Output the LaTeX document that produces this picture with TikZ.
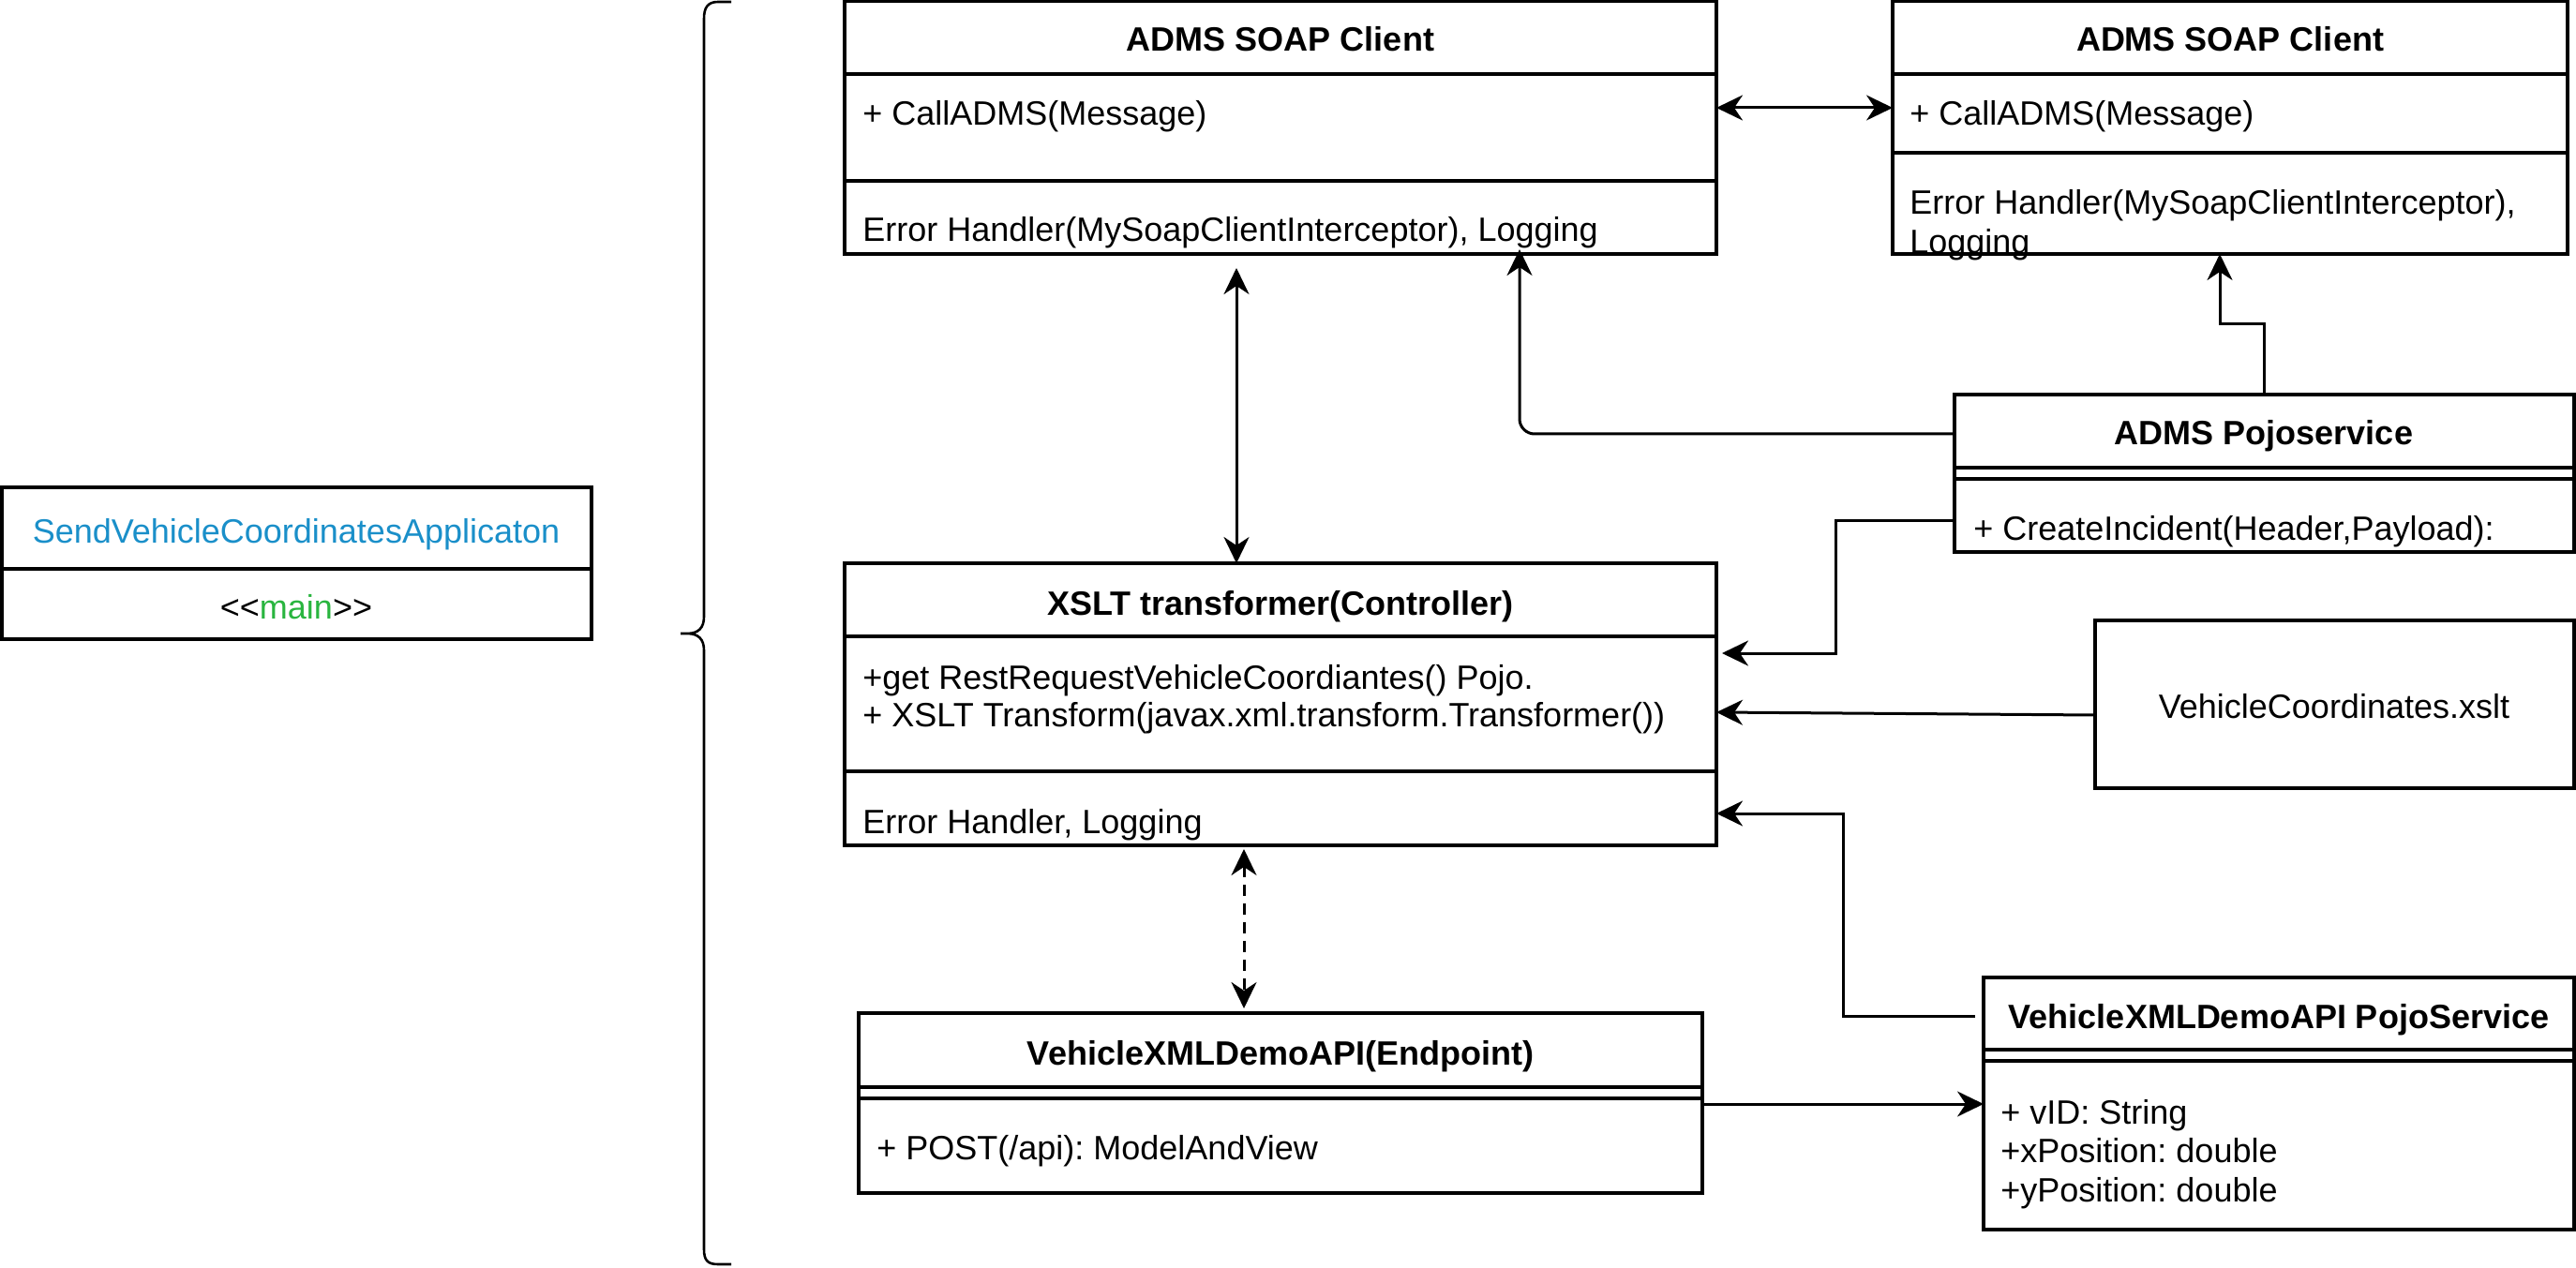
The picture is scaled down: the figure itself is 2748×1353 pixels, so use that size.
\documentclass[tikz,border=0pt]{standalone}
\usepackage{fontspec}
\setmainfont{Liberation Sans}
\usetikzlibrary{arrows.meta,fit}
\definecolor{appblue}{HTML}{1A8FC9}
\definecolor{maingreen}{HTML}{29B53F}
\frenchspacing
\begin{document}
\begin{tikzpicture}[x=0.5pt,y=-0.5pt,
  box/.style={draw, line width=1.7pt, inner sep=0pt, outer sep=0pt},
  divline/.style={line width=1.7pt},
  lbl/.style={anchor=base west, inner sep=0pt, font=\fontsize{18}{20.5}\selectfont},
  ttl/.style={anchor=base, inner sep=0pt, font=\fontsize{18}{20.5}\selectfont\bfseries},
  ctr/.style={anchor=base, inner sep=0pt, font=\fontsize{18}{20.5}\selectfont},
  conn/.style={line width=1.5pt},
  tip/.style={-{Stealth[length=14pt,width=13.5pt,inset=4.5pt]}},
  dbl/.style={{Stealth[length=14pt,width=13.5pt,inset=4.5pt]}-{Stealth[length=14pt,width=13.5pt,inset=4.5pt]}},
  dsh/.style={dash pattern=on 6pt off 4pt}
]
\useasboundingbox (0,0) rectangle (2748,1353);

% brace
\draw[line width=1.3pt] (780,2) -- (766,2) .. controls (755,2) and (751,8) .. (751,20) -- (751,658)
  .. controls (751,670) and (745,676) .. (733,676) -- (726,676) -- (733,676)
  .. controls (745,676) and (751,682) .. (751,694) -- (751,1333)
  .. controls (751,1345) and (755,1349) .. (766,1349) -- (780,1349);

% application box
\node[box, fit={(2,520) (631,682)}] (app) {};
\draw[divline] (app.west |- 0,607) -- (app.east |- 0,607);
\node[ctr, text=appblue] (appt) at (316,580) {SendVehicleCoordinatesApplicaton};
\node[ctr] (appm) at (316,660) {<{}<\textcolor{maingreen}{main}>{}>};

% left SOAP client
\node[box, fit={(901,1) (1831,271)}] (soapL) {};
\draw[divline] (901,79) -- (1831,79);
\draw[divline] (901,193) -- (1831,193);
\node[ttl] (soapLt) at (1366,55) {ADMS SOAP Client};
\node[lbl] (soapLm) at (920,134) {+ CallADMS(Message)};
\node[lbl] (soapLe) at (920,258) {Error Handler(MySoapClientInterceptor), Logging};

% right SOAP client
\node[box, fit={(2019,1) (2739,271)}] (soapR) {};
\draw[divline] (2019,79) -- (2739,79);
\draw[divline] (2019,163) -- (2739,163);
\node[ttl] (soapRt) at (2379,55) {ADMS SOAP Client};
\node[lbl] (soapRm) at (2037,134) {+ CallADMS(Message)};
\node[lbl] (soapRe) at (2037,229) {Error Handler(MySoapClientInterceptor),};
\node[lbl] (soapRl) at (2037,271) {Logging};

% ADMS Pojoservice
\node[box, fit={(2085,421) (2746,589)}] (pojo) {};
\draw[divline] (2085,499) -- (2746,499);
\draw[divline] (2085,511) -- (2746,511);
\node[ttl] (pojot) at (2415,475) {ADMS Pojoservice};
\node[lbl] (pojom) at (2105,576) {+ CreateIncident(Header,Payload):};

% XSLT transformer
\node[box, fit={(901,601) (1831,902)}] (xslt) {};
\draw[divline] (901,679) -- (1831,679);
\draw[divline] (901,823) -- (1831,823);
\node[ttl] (xsltt) at (1366,656) {XSLT transformer(Controller)};
\node[lbl] (xsltm1) at (920,735) {+get RestRequestVehicleCoordiantes() Pojo.};
\node[lbl] (xsltm2) at (920,775) {+ XSLT Transform(javax.xml.transform.Transformer())};
\node[lbl] (xslte) at (920,889) {Error Handler, Logging};

% xslt file
\node[box, fit={(2235,662) (2746,841)}] (xfile) {};
\node[ctr] (xfilet) at (2490,766) {VehicleCoordinates.xslt};

% Endpoint
\node[box, fit={(916,1081) (1816,1273)}] (endp) {};
\draw[divline] (916,1160) -- (1816,1160);
\draw[divline] (916,1172) -- (1816,1172);
\node[ttl] (endpt) at (1366,1136) {VehicleXMLDemoAPI(Endpoint)};
\node[lbl] (endpm) at (935,1237) {+ POST(/api): ModelAndView};

% VehicleXMLDemoAPI PojoService
\node[box, fit={(2116,1043) (2746,1312)}] (vpojo) {};
\draw[divline] (2116,1120) -- (2746,1120);
\draw[divline] (2116,1132) -- (2746,1132);
\node[ttl] (vpojot) at (2431,1097) {VehicleXMLDemoAPI PojoService};
\node[lbl] (vpojoa1) at (2134,1199) {+ vID: String};
\node[lbl] (vpojoa2) at (2134,1240) {+xPosition: double};
\node[lbl] (vpojoa3) at (2134,1282) {+yPosition: double};

% connectors
\coordinate (c1) at (0,115);
\draw[conn,dbl] (soapL.east |- c1) -- (soapR.west |- c1);

\coordinate (c2) at (1319,0);
\draw[conn,dbl,shorten <=7.5pt] (soapL.south -| c2) -- (xslt.north -| c2);

\coordinate (c3) at (1621,463);
\draw[conn,tip,rounded corners=8pt,shorten >=-2.5pt] (pojo.west |- c3) -- (c3) -- (soapL.south -| c3);

\coordinate (c4a) at (2415,346);
\coordinate (c4b) at (2368,346);
\draw[conn,tip] (pojo.north -| c4a) -- (c4a) -- (c4b) -- (soapR.south -| c4b);

\coordinate (c5a) at (1958,556);
\coordinate (c5b) at (1958,697);
\draw[conn,tip,shorten >=3pt] (pojo.west |- c5a) -- (c5a) -- (c5b) -- (xslt.east |- c5b);

\coordinate (c6a) at (0,763);
\coordinate (c6b) at (0,760);
\draw[conn,tip] (xfile.west |- c6a) -- (xslt.east |- c6b);

\coordinate (c7a) at (1966,1084);
\coordinate (c7b) at (1966,868);
\draw[conn,tip,shorten <=4.5pt] (vpojo.west |- c7a) -- (c7a) -- (c7b) -- (xslt.east |- c7b);

\coordinate (c8) at (0,1178);
\draw[conn,tip] (endp.east |- c8) -- (vpojo.west |- c8);

\coordinate (c9) at (1327,0);
\draw[conn,dbl,dsh,shorten <=2pt,shorten >=2.5pt] (xslt.south -| c9) -- (endp.north -| c9);
\end{tikzpicture}
\end{document}
